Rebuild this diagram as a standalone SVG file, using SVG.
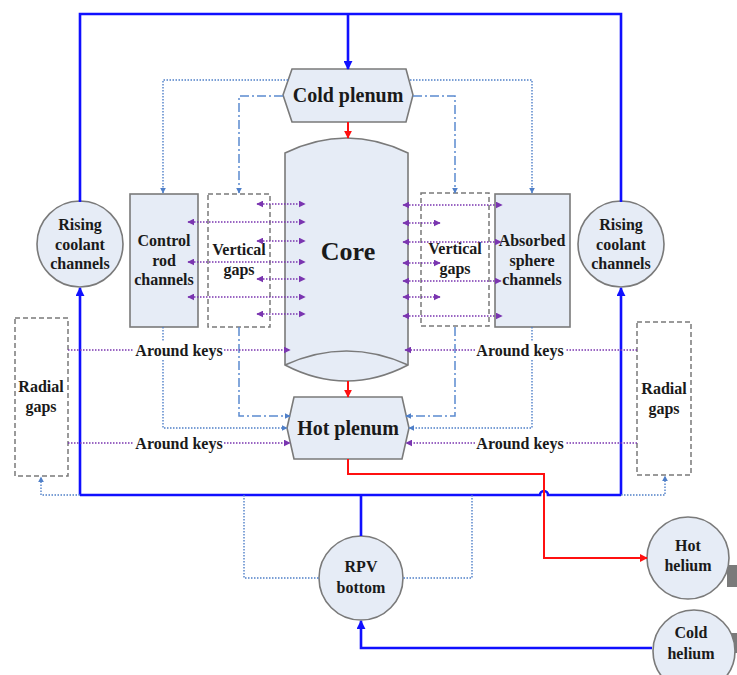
<svg xmlns="http://www.w3.org/2000/svg" width="737" height="675" viewBox="0 0 737 675">
<defs>
<style>
.node{fill:#e6ecf6;stroke:#7a7a7a;stroke-width:1.6}
.gap{fill:none;stroke:#7a7a7a;stroke-width:1.5;stroke-dasharray:5,3}
.t{font-family:"Liberation Serif","Times New Roman",serif;font-weight:bold;font-size:16px;fill:#1a1a1a;text-anchor:middle}
.big{font-size:20px}
.core{font-size:26px}
.blue{fill:none;stroke:#1010ff;stroke-width:2.6}
.red{fill:none;stroke:#ff1010;stroke-width:2}
.dot{fill:none;stroke:#4f7fc8;stroke-width:1.4;stroke-dasharray:1.5,1.5}
.dd{fill:none;stroke:#5b8bd0;stroke-width:1.5;stroke-dasharray:9,3,2,3}
.pur{fill:none;stroke:#7a35b0;stroke-width:1.5;stroke-dasharray:1.5,1.5}
</style>
<marker id="aBlue" viewBox="0 0 10 10" refX="9" refY="5" markerWidth="9" markerHeight="9" markerUnits="userSpaceOnUse" orient="auto"><path d="M0,0 L10,5 L0,10 z" fill="#1010ff"/></marker>
<marker id="aRed" viewBox="0 0 10 10" refX="9" refY="5" markerWidth="8" markerHeight="8" markerUnits="userSpaceOnUse" orient="auto"><path d="M0,0 L10,5 L0,10 z" fill="#ff1010"/></marker>
<marker id="aDot" viewBox="0 0 10 10" refX="9" refY="5" markerWidth="6" markerHeight="6" markerUnits="userSpaceOnUse" orient="auto"><path d="M0,0 L10,5 L0,10 z" fill="#4f7fc8"/></marker>
<marker id="aPur" viewBox="0 0 10 10" refX="9" refY="5" markerWidth="7" markerHeight="7" markerUnits="userSpaceOnUse" orient="auto-start-reverse"><path d="M0,0 L10,5 L0,10 z" fill="#7a35b0"/></marker>
</defs>
<rect width="737" height="675" fill="#ffffff"/>

<g id="cold-plenum">
  <polygon class="node" points="292,69 406,69 413,95 406,122 292,122 283,95"/>
  <text class="t big" x="348" y="101.5">Cold plenum</text>
</g>
<g id="core">
  <path class="node" d="M285,153 Q346.5,123 408,153 V365 Q346.5,397 285,365 Z"/>
  <path fill="none" stroke="#7a7a7a" stroke-width="1.6" d="M285,365 Q346.5,337 408,365"/>
  <text class="t core" x="348" y="260">Core</text>
</g>
<g id="hot-plenum">
  <polygon class="node" points="294,397 402,397 409,428 402,459 294,459 287,428"/>
  <text class="t big" x="348" y="435">Hot plenum</text>
</g>
<g id="control-rod-channels">
  <rect class="node" x="130" y="194" width="68" height="133"/>
  <text class="t" x="164" y="245.5">Control</text>
  <text class="t" x="164" y="265.5">rod</text>
  <text class="t" x="164" y="284.5">channels</text>
</g>
<g id="vertical-gaps-left">
  <rect class="gap" x="208" y="194" width="62" height="133"/>
  <text class="t" x="239" y="255">Vertical</text>
  <text class="t" x="239" y="275">gaps</text>
</g>
<g id="vertical-gaps-right">
  <rect class="gap" x="421" y="193" width="68" height="133"/>
  <text class="t" x="455" y="254">Vertical</text>
  <text class="t" x="455" y="274">gaps</text>
</g>
<g id="absorbed-sphere-channels">
  <rect class="node" x="495" y="194" width="75" height="133"/>
  <text class="t" x="532" y="246">Absorbed</text>
  <text class="t" x="532" y="266">sphere</text>
  <text class="t" x="532" y="285">channels</text>
</g>
<g id="rising-left">
  <circle class="node" cx="80" cy="244" r="43"/>
  <text class="t" x="80" y="229.5">Rising</text>
  <text class="t" x="80" y="249.5">coolant</text>
  <text class="t" x="80" y="268.5">channels</text>
</g>
<g id="rising-right">
  <circle class="node" cx="621" cy="244" r="43"/>
  <text class="t" x="621" y="229.5">Rising</text>
  <text class="t" x="621" y="249.5">coolant</text>
  <text class="t" x="621" y="268.5">channels</text>
</g>
<g id="radial-gaps-left">
  <rect class="gap" x="15" y="318" width="53" height="158"/>
  <text class="t" x="41" y="392">Radial</text>
  <text class="t" x="41" y="412">gaps</text>
</g>
<g id="radial-gaps-right">
  <rect class="gap" x="637" y="322" width="54" height="153"/>
  <text class="t" x="664" y="394">Radial</text>
  <text class="t" x="664" y="414">gaps</text>
</g>
<g id="rpv-bottom">
  <circle class="node" cx="361" cy="578" r="42"/>
  <text class="t" x="361" y="572">RPV</text>
  <text class="t" x="361" y="593">bottom</text>
</g>
<g id="hot-helium">
  <rect x="727" y="565" width="10" height="22" fill="#7a7a7a"/>
  <circle class="node" cx="688" cy="558" r="41"/>
  <text class="t" x="688" y="551">Hot</text>
  <text class="t" x="688" y="571">helium</text>
</g>
<g id="cold-helium">
  <rect x="727" y="633" width="10" height="20" fill="#7a7a7a"/>
  <circle class="node" cx="694" cy="651" r="41"/>
  <text class="t" x="691" y="638">Cold</text>
  <text class="t" x="691" y="659">helium</text>
</g>

<g id="connectors">
  <path class="blue" d="M80,202 V14 H621 V202"/>
  <path class="blue" d="M348,14 V69" marker-end="url(#aBlue)"/>
  <path class="blue" d="M80,495 V288" marker-end="url(#aBlue)"/>
  <path class="blue" d="M621,495 V288" marker-end="url(#aBlue)"/>
  <path class="blue" d="M80,495 H540 a4,4 0 0 1 8,0 H621"/>
  <path class="blue" d="M361,495 V536"/>
  <path class="blue" d="M652,648 H361 V621" marker-end="url(#aBlue)"/>
  <path class="red" d="M348,122 V138" marker-end="url(#aRed)"/>
  <path class="red" d="M348,381 V397" marker-end="url(#aRed)"/>
  <path class="red" d="M348,459 V474 H544 V558 H647" marker-end="url(#aRed)"/>
  <path class="dot" d="M288,80 H163 V193" marker-end="url(#aDot)"/>
  <path class="dot" d="M410,80 H532 V193" marker-end="url(#aDot)"/>
  <path class="dd" d="M283,96 H239 V193" marker-end="url(#aDot)"/>
  <path class="dd" d="M413,96 H455 V193" marker-end="url(#aDot)"/>
  <path class="dot" d="M163,327 V428 H287" marker-end="url(#aDot)"/>
  <path class="dot" d="M532,327 V428 H409" marker-end="url(#aDot)"/>
  <path class="dd" d="M239,327 V416 H290" marker-end="url(#aDot)"/>
  <path class="dd" d="M455,327 V416 H406" marker-end="url(#aDot)"/>
  <path class="dot" d="M80,495 H41 V477" marker-end="url(#aDot)"/>
  <path class="dot" d="M621,495 H665 V476" marker-end="url(#aDot)"/>
  <path class="dot" d="M244,495 V578 H320"/>
  <path class="dot" d="M472,495 V578 H402"/>
  <path class="pur" d="M68,350 H290" marker-end="url(#aPur)"/>
  <path class="pur" d="M637,350 H405" marker-end="url(#aPur)"/>
  <path class="pur" d="M68,443 H290" marker-end="url(#aPur)"/>
  <path class="pur" d="M637,443 H406" marker-end="url(#aPur)"/>
  <path class="pur" d="M257,204 H305" marker-start="url(#aPur)" marker-end="url(#aPur)"/>
  <path class="pur" d="M188,222 H305" marker-start="url(#aPur)" marker-end="url(#aPur)"/>
  <path class="pur" d="M257,241 H305" marker-start="url(#aPur)" marker-end="url(#aPur)"/>
  <path class="pur" d="M188,262 H305" marker-start="url(#aPur)" marker-end="url(#aPur)"/>
  <path class="pur" d="M257,279 H305" marker-start="url(#aPur)" marker-end="url(#aPur)"/>
  <path class="pur" d="M188,297 H305" marker-start="url(#aPur)" marker-end="url(#aPur)"/>
  <path class="pur" d="M257,314 H305" marker-start="url(#aPur)" marker-end="url(#aPur)"/>
  <path class="pur" d="M403,205 H502" marker-start="url(#aPur)" marker-end="url(#aPur)"/>
  <path class="pur" d="M403,223 H440" marker-start="url(#aPur)" marker-end="url(#aPur)"/>
  <path class="pur" d="M403,242 H501" marker-start="url(#aPur)" marker-end="url(#aPur)"/>
  <path class="pur" d="M403,263 H440" marker-start="url(#aPur)" marker-end="url(#aPur)"/>
  <path class="pur" d="M403,281 H501" marker-start="url(#aPur)" marker-end="url(#aPur)"/>
  <path class="pur" d="M403,297 H440" marker-start="url(#aPur)" marker-end="url(#aPur)"/>
  <path class="pur" d="M403,316 H502" marker-start="url(#aPur)" marker-end="url(#aPur)"/>
  <rect x="134" y="341" width="90" height="18" fill="#ffffff"/>
  <text class="t" x="179" y="355.5">Around keys</text>
  <rect x="475" y="341" width="90" height="18" fill="#ffffff"/>
  <text class="t" x="520" y="355.5">Around keys</text>
  <rect x="134" y="434" width="90" height="18" fill="#ffffff"/>
  <text class="t" x="179" y="448.5">Around keys</text>
  <rect x="475" y="434" width="90" height="18" fill="#ffffff"/>
  <text class="t" x="520" y="448.5">Around keys</text>
</g>
</svg>
